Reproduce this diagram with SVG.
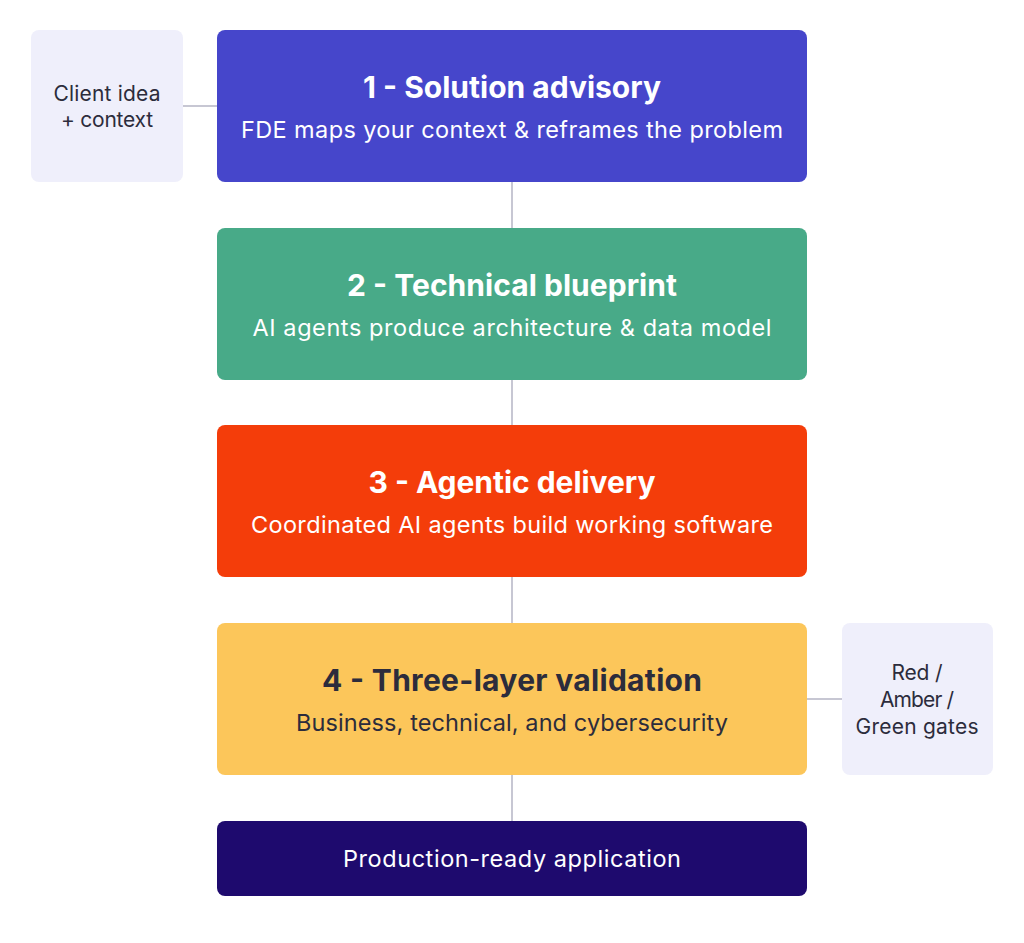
<svg xmlns="http://www.w3.org/2000/svg" width="1024" height="943" viewBox="0 0 1024 943">
<style>
.t{font-family:Inter,"Open Sans","Liberation Sans",sans-serif;text-anchor:middle}
.h{font-size:30px;font-weight:700}
.s{font-size:23.5px;font-weight:400}
.m{font-size:21px}
.w{fill:#ffffff}
.d{fill:#2c2c3c}
.side{fill:#efeffb}
.c{stroke:#b4b4c4;stroke-width:1.5;fill:none}
</style>
<rect width="1024" height="943" fill="#ffffff"/>
<g id="connectors">
<line class="c" x1="183" y1="106" x2="217" y2="106"/>
<line class="c" x1="512" y1="182" x2="512" y2="228"/>
<line class="c" x1="512" y1="380" x2="512" y2="425"/>
<line class="c" x1="512" y1="577" x2="512" y2="623"/>
<line class="c" x1="512" y1="775" x2="512" y2="821"/>
<line class="c" x1="807" y1="699" x2="842" y2="699"/>
</g>
<g id="client">
<rect class="side" x="31" y="30" width="152" height="152" rx="8"/>
<text class="t d m" x="107" y="101" textLength="107">Client idea</text>
<text class="t d m" x="107" y="127" textLength="92">+ context</text>
</g>
<g id="step1">
<rect x="217" y="30" width="590" height="152" rx="8" fill="#4646cb"/>
<text class="t h w" x="512" y="98" textLength="298">1 - Solution advisory</text>
<text class="t s w" x="512" y="138" textLength="542">FDE maps your context &amp; reframes the problem</text>
</g>
<g id="step2">
<rect x="217" y="228" width="590" height="152" rx="8" fill="#48aa88"/>
<text class="t h w" x="512" y="296" textLength="330">2 - Technical blueprint</text>
<text class="t s w" x="512" y="336" textLength="519">AI agents produce architecture &amp; data model</text>
</g>
<g id="step3">
<rect x="217" y="425" width="590" height="152" rx="8" fill="#f43d0a"/>
<text class="t h w" x="512" y="493" textLength="287">3 - Agentic delivery</text>
<text class="t s w" x="512" y="533" textLength="522">Coordinated AI agents build working software</text>
</g>
<g id="step4">
<rect x="217" y="623" width="590" height="152" rx="8" fill="#fcc65a"/>
<text class="t h d" x="512" y="691" textLength="380">4 - Three-layer validation</text>
<text class="t s d" x="512" y="731" textLength="432">Business, technical, and cybersecurity</text>
</g>
<g id="gates">
<rect class="side" x="842" y="623" width="151" height="152" rx="8"/>
<text class="t d m" x="917" y="680" textLength="51">Red /</text>
<text class="t d m" x="917" y="707" textLength="74">Amber /</text>
<text class="t d m" x="917" y="734" textLength="123">Green gates</text>
</g>
<g id="result">
<rect x="217" y="821" width="590" height="75" rx="8" fill="#1e0a6e"/>
<text class="t s w" x="512" y="867" textLength="338">Production-ready application</text>
</g>
</svg>
